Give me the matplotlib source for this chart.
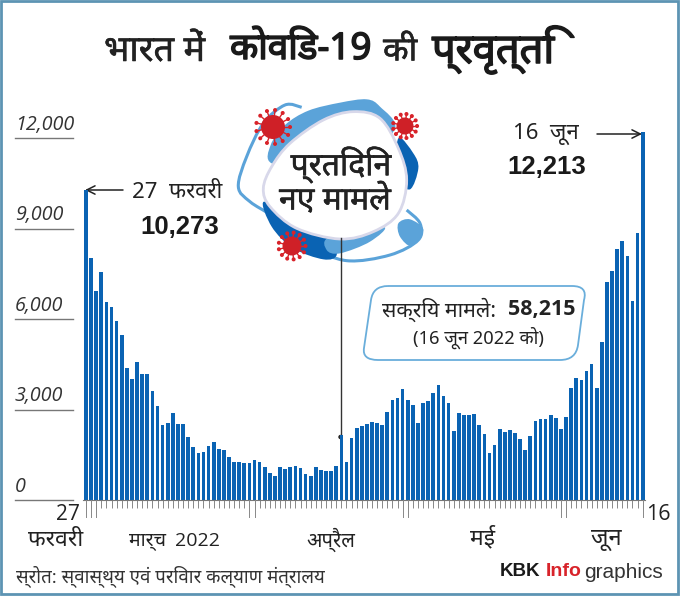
import numpy as np
import matplotlib
matplotlib.use("Agg")
from matplotlib import pyplot as plt
from matplotlib.path import Path
from matplotlib.patches import PathPatch, Circle, Rectangle
import matplotlib.patheffects as pe

# data, 27 Feb to 16 Jun 2022
cases = [10273, 8013, 6915, 7554, 6561, 6396, 5921, 5476, 4365, 4000,
         4575, 4188, 4188, 3624, 3116, 2497, 2564, 2873, 2530, 2530,
         2077, 1757, 1547, 1580, 1779, 1934, 1680, 1658, 1414, 1260,
         1260, 1227, 1227, 1326, 1249, 1094, 906, 796, 1083, 1028,
         1094, 1138, 1050, 851, 785, 1083, 1006, 950, 961, 1138,
         2166, 1249, 2066, 2387, 2442, 2519, 2597, 2541, 2475, 2928,
         3315, 3370, 3691, 3315, 3160, 2564, 3204, 3271, 3536, 3801,
         3448, 3204, 2287, 2895, 2829, 2829, 2851, 2486, 2199, 1558,
         1823, 2365, 2254, 2309, 2221, 2022, 1669, 2122, 2630, 2696,
         2674, 2818, 2707, 2343, 2740, 3712, 4033, 3967, 4265, 4519,
         3712, 5238, 7238, 7591, 8332, 8586, 8089, 6597, 8840, 12213]
y_ticks = [0, 3000, 6000, 9000, 12000]
y_labels = ["0", "3,000", "6,000", "9,000", "12,000"]
long_ticks = [0, 1, 2, 32, 33, 62, 63, 93, 94, 109]

BLUE = "#0a63b3"
LIGHT = "#5ba3d9"
RED = "#d8232a"
INK = "#222222"
HINDI = ["Noto Sans", "DejaVu Sans"]
W, H = 680, 596

fig = plt.figure(figsize=(W / 100, H / 100), dpi=100, facecolor="white")

# overlay in image pixels, for the artwork
bg = fig.add_axes([0, 0, 1, 1])
bg.set_xlim(0, W)
bg.set_ylim(H, 0)
bg.axis("off")

# bar chart axes
left, right = 83.45, 645.25
base, top = 500.0, 131.0
ax = fig.add_axes([left / W, 1 - base / H, (right - left) / W, (base - top) / H])
ax.patch.set_alpha(0)
ax.bar(range(len(cases)), cases, width=0.72, color=BLUE, linewidth=0)
ax.set_xlim(-0.5, 109.5)
ax.set_ylim(0, (base - top) * 33.15)
for s in ax.spines.values():
    s.set_visible(False)
ax.set_yticks([])
ax.set_xticks(range(len(cases)))
ax.set_xticklabels([])
ax.tick_params(axis="x", length=6, width=0.7, color="#888888")
ax.plot([0, 1], [0, 0], transform=ax.transAxes, color="#777777", lw=0.8, clip_on=False)
for i in long_ticks:
    ax.plot([i, i], [0, -17 * 33.15], color="#888888", lw=0.7, clip_on=False)

# y labels sit above short rules at the far left
trans = ax.get_yaxis_transform()
for v, lab in zip(y_ticks, y_labels):
    ax.plot([(15 - left) / (right - left), (73 - left) / (right - left)], [v, v],
            transform=trans, color="#777777", lw=1.0, clip_on=False)
    bg.text(15, base - v / 33.15 - 3.5, lab, fontsize=14.2, style="italic", family="Open Sans",
            color="#333333", ha="left", va="bottom")


def smooth(points, closed=True):
    # smooth outline through the points, coords are from the bubble crop
    p = np.array(points, dtype=float)
    p = np.column_stack([230 + p[:, 0] / 3, 90 + p[:, 1] / 3])
    n = len(p)
    verts = [p[0]]
    codes = [Path.MOVETO]
    for i in range(n if closed else n - 1):
        if closed:
            a, b, c, d = p[i - 1], p[i], p[(i + 1) % n], p[(i + 2) % n]
        else:
            a, b, c, d = p[max(i - 1, 0)], p[i], p[i + 1], p[min(i + 2, n - 1)]
        verts += [b + (c - a) / 6, c - (d - b) / 6, c]
        codes += [Path.CURVE4] * 3
    return Path(verts, codes)


def virus(x, y, r, n=13):
    for a in np.linspace(0, 2 * np.pi, n, endpoint=False):
        ex, ey = x + 1.42 * r * np.cos(a), y + 1.42 * r * np.sin(a)
        bg.plot([x, ex], [y, ey], color=RED, lw=1.0, zorder=6)
        bg.add_patch(Circle((ex, ey), 1.3, color=RED, zorder=6))
    bg.add_patch(Circle((x, y), r, color="#cf2027", lw=0, zorder=6))


# orbit and blobs behind the title bubble
orbit = [(215, 52), (165, 45), (100, 100), (50, 200), (25, 290), (60, 335), (130, 380), (250, 470), (350, 512),
         (480, 495), (565, 450), (570, 400), (530, 360)]
bg.add_patch(PathPatch(smooth(orbit, closed=False), fill=False, edgecolor=LIGHT, lw=2.2, zorder=1))
bg.add_patch(PathPatch(smooth([(125, 220), (122, 165), (165, 105), (235, 62), (330, 38), (410, 28), (450, 50),
                               (495, 115), (400, 200), (250, 230)]), color=LIGHT, lw=0, zorder=2))
bg.add_patch(PathPatch(smooth([(505, 145), (550, 190), (565, 235), (540, 298), (500, 260)]),
                       color=BLUE, lw=0, zorder=2))
bg.add_patch(PathPatch(smooth([(102, 335), (125, 410), (190, 475), (280, 508), (320, 495), (300, 440), (200, 400)]),
                       color=BLUE, lw=0, zorder=2))
bg.add_patch(PathPatch(smooth([(300, 440), (460, 410), (420, 455), (330, 490), (290, 480)]),
                       color=LIGHT, lw=0, zorder=2))
bg.add_patch(PathPatch(smooth([(505, 400), (540, 388), (580, 420), (545, 468), (510, 440)]),
                       color=LIGHT, lw=0, zorder=2))
bg.add_patch(PathPatch(smooth([(100, 295), (125, 230), (180, 160), (280, 90), (370, 65), (450, 85), (505, 175),
                               (530, 270), (505, 370), (430, 425), (330, 447), (200, 415), (120, 350)]),
                       facecolor="white", edgecolor="#d8d8ea", lw=2, zorder=3))
virus(273, 127, 12)
virus(405, 126, 8.5)
virus(292, 246, 9.5)

# the Hindi faces have no bold cut here, so thicken with a stroke
thin = [pe.withStroke(linewidth=0.4, foreground=INK)]
bold = [pe.withStroke(linewidth=1.1, foreground="#1a1a1a")]

bg.text(341, 165, "प्रतिदिन", fontsize=23, family=HINDI, color=INK, ha="center", va="center", zorder=7,
        path_effects=thin)
bg.text(335, 201, "नए मामले", fontsize=23, family=HINDI, color=INK, ha="center", va="center", zorder=7,
        path_effects=thin)

# title, one run per weight
bg.text(104, 52, "भारत में", fontsize=26, family=HINDI, color=INK, va="center", path_effects=thin)
bg.text(230, 50, "कोविड-19", fontsize=26.5, family=HINDI, color="#1a1a1a", va="center", path_effects=bold)
bg.text(383, 52, "की", fontsize=24, family=HINDI, color=INK, va="center", path_effects=thin)
bg.text(432, 50, "प्रवृत्ति", fontsize=30, family=HINDI, color="#1a1a1a", va="center", path_effects=bold)

# callouts
bg.annotate("", xy=(85, 190), xytext=(123, 190),
            arrowprops=dict(arrowstyle="->", color=INK, lw=1.1, mutation_scale=15, shrinkA=0, shrinkB=0))
bg.text(132, 192, "27  फरवरी", fontsize=16, family=HINDI, color=INK, va="center")
bg.text(180, 227, "10,273", fontsize=18.5, family="Liberation Sans", weight="bold", color="#1a1a1a",
        ha="center", va="center")
bg.annotate("", xy=(642, 134), xytext=(597, 134),
            arrowprops=dict(arrowstyle="->", color=INK, lw=1.1, mutation_scale=15, shrinkA=0, shrinkB=0))
bg.text(513, 134, "16  जून", fontsize=16, family=HINDI, color=INK, va="center")
bg.text(547, 167, "12,213", fontsize=18.5, family="Liberation Sans", weight="bold", color="#1a1a1a",
        ha="center", va="center")
bg.plot([340.5, 340.5], [238, 436], color="#333333", lw=1.0, zorder=8)
bg.add_patch(Circle((340.5, 437), 1.5, color="#222222", zorder=8))

box = Path([(388, 286), (572, 286), (588, 286), (584, 300), (578, 345), (576, 360), (560, 360), (378, 360), (362, 360),
            (364, 348), (371, 300), (373, 286), (388, 286)],
           [Path.MOVETO, Path.LINETO, Path.CURVE3, Path.CURVE3, Path.LINETO, Path.CURVE3, Path.CURVE3, Path.LINETO,
            Path.CURVE3, Path.CURVE3, Path.LINETO, Path.CURVE3, Path.CURVE3])
bg.add_patch(PathPatch(box, facecolor="white", edgecolor="#6aaedb", lw=1.3, zorder=2))
bg.text(382, 310, "सक्रिय मामले:", fontsize=15.3, family=HINDI, color=INK, va="center", zorder=5)
bg.text(508, 310, "58,215", fontsize=15.5, family="Open Sans", weight="bold", color=INK, va="center", zorder=5)
bg.text(478, 338, "(16 जून 2022 को)", fontsize=13.2, family=HINDI, color=INK, ha="center", va="center", zorder=5)

# x labels
bg.text(80, 515, "27", fontsize=15, family="Open Sans", color=INK, ha="right", va="center")
bg.text(56, 540, "फरवरी", fontsize=16.5, family=HINDI, color=INK, ha="center", va="center")
bg.text(129, 540, "मार्च", fontsize=14, family=HINDI, color=INK, va="center")
bg.text(175, 541, "2022", fontsize=14, family="Open Sans", color=INK, va="center")
bg.text(306, 540, "अप्रैल", fontsize=14.5, family=HINDI, color=INK, va="center")
bg.text(483, 538, "मई", fontsize=16.5, family=HINDI, color=INK, ha="center", va="center")
bg.text(606, 539, "जून", fontsize=17, family=HINDI, color=INK, ha="center", va="center")
bg.text(646, 515, "16", fontsize=15.5, family="Open Sans", color=INK, va="center")

# footer
bg.text(16, 576, "स्रोत: स्वास्थ्य एवं परिवार कल्याण मंत्रालय", fontsize=13.4, family=HINDI, color="#333333", va="center")
bg.text(500, 572, "KBK", fontsize=13.5, family="Liberation Sans", weight="bold", color="#1a1a1a", va="center")
bg.text(546, 572, "Info", fontsize=14, family="Liberation Sans", weight="bold", color=RED, va="center")
bg.text(584, 572, "graphics", fontsize=15, family="Liberation Sans", color="#333333", va="center")

# image frame
bg.add_patch(Rectangle((1, 1), W - 3, H - 3, fill=False, edgecolor="#5d94b3", lw=2, zorder=10))

fig.savefig("out.png", dpi=100)
